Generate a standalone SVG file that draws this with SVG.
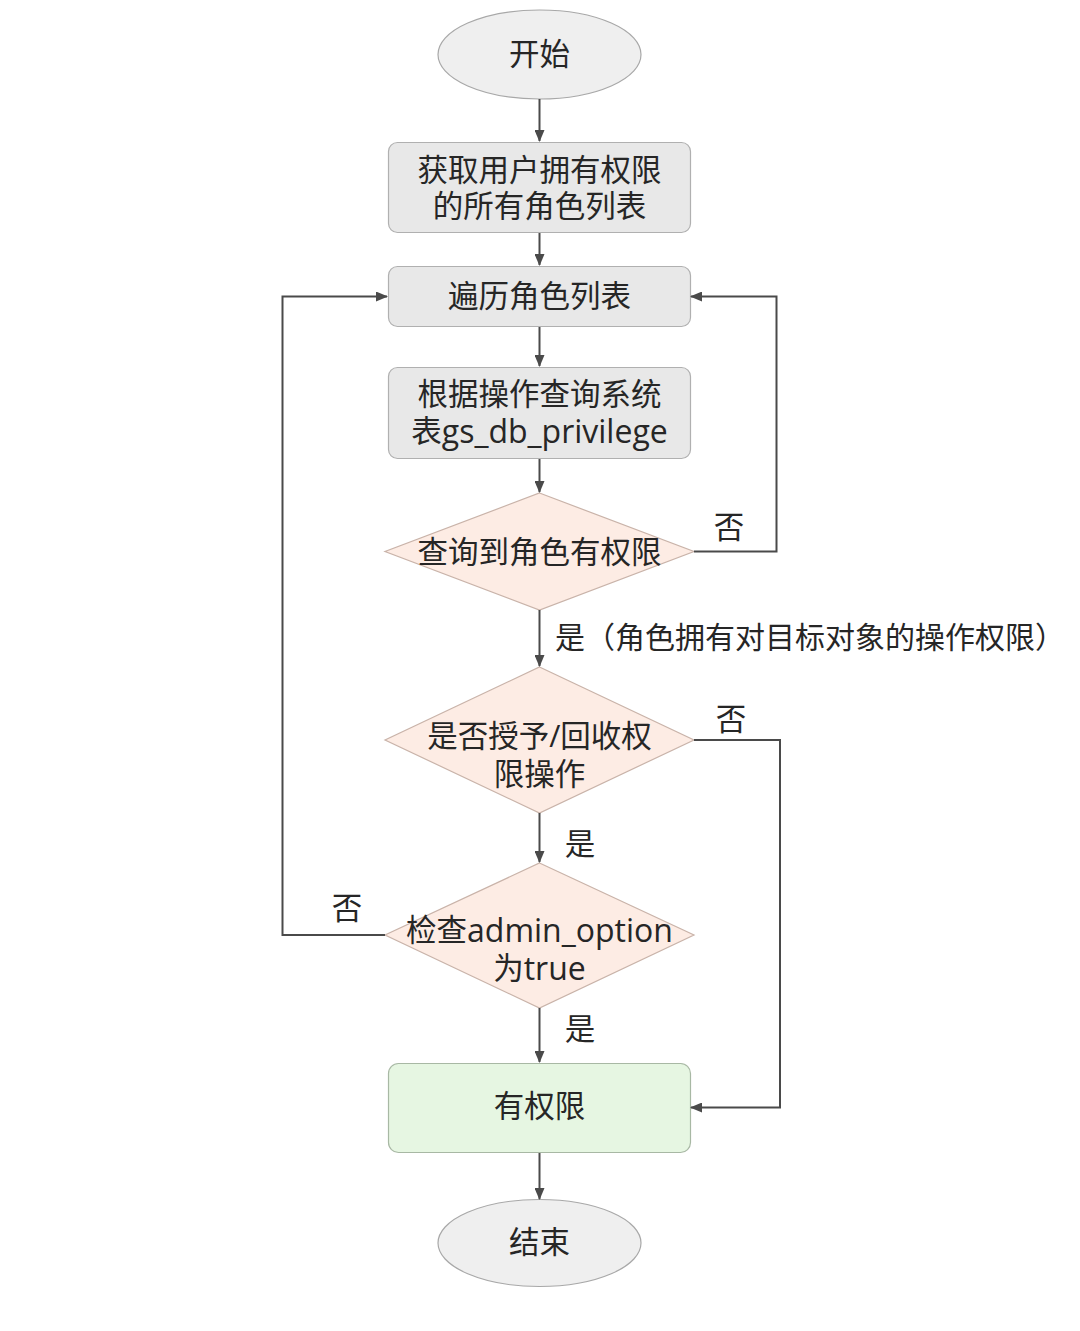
<svg xmlns="http://www.w3.org/2000/svg" width="1080" height="1331" viewBox="0 0 1080 1331">
<defs>
<marker id="arr" markerWidth="12" markerHeight="10" refX="11" refY="5" orient="auto" markerUnits="userSpaceOnUse">
<path d="M0,0 L12,5 L0,10 Z" fill="#4a4a4a"/>
</marker>
<style>
text{font-family:"Open Sans","Noto Sans CJK SC",sans-serif;font-size:30.5px;fill:#262626;text-anchor:middle;dominant-baseline:central}
.lat{font-size:32px}
.term{fill:#efefef;stroke:#a8a8a8;stroke-width:1.2}
.proc{fill:#e8e8e8;stroke:#b0b0b0;stroke-width:1.2}
.dec{fill:#fdece4;stroke:#c9b3a9;stroke-width:1.2}
.ok{fill:#e6f6e2;stroke:#a8b8a4;stroke-width:1.2}
.conn path{fill:none;stroke:#4a4a4a;stroke-width:2;marker-end:url(#arr)}
.lbl{text-anchor:start;font-size:30px}
</style>
</defs>
<rect width="1080" height="1331" fill="#ffffff"/>

<g id="start">
<ellipse class="term" cx="539.5" cy="54.5" rx="101.5" ry="44.5"/>
<text x="539.5" y="53">开始</text>
</g>

<g id="get-roles">
<rect class="proc" x="388.5" y="142.5" width="302" height="90" rx="9"/>
<text x="539.5" y="168.5">获取用户拥有权限</text>
<text x="539.5" y="205">的所有角色列表</text>
</g>

<g id="iterate">
<rect class="proc" x="388.5" y="266.5" width="302" height="60" rx="9"/>
<text x="539.5" y="295">遍历角色列表</text>
</g>

<g id="query">
<rect class="proc" x="388.5" y="367.5" width="302" height="91" rx="9"/>
<text x="539.5" y="393">根据操作查询系统</text>
<text x="539.5" y="430">表<tspan class="lat">gs_db_privilege</tspan></text>
</g>

<g id="has-priv">
<polygon class="dec" points="539.5,493 694,551.5 539.5,610 385,551.5"/>
<text x="539.5" y="551">查询到角色有权限</text>
</g>

<g id="grant-revoke">
<polygon class="dec" points="539.5,667 694,740 539.5,813 385,740"/>
<text x="539.5" y="735">是否授予/回收权</text>
<text x="539.5" y="772.5">限操作</text>
</g>

<g id="admin-option">
<polygon class="dec" points="539.5,863 694,935 539.5,1008 385,935"/>
<text x="539.5" y="929">检查<tspan class="lat">admin_option</tspan></text>
<text x="539.5" y="967">为<tspan class="lat">true</tspan></text>
</g>

<g id="granted">
<rect class="ok" x="388.5" y="1063.5" width="302" height="89" rx="10"/>
<text x="539.5" y="1105">有权限</text>
</g>

<g id="end">
<ellipse class="term" cx="539.5" cy="1243" rx="101.5" ry="43.5"/>
<text x="539.5" y="1241">结束</text>
</g>

<g id="connectors" class="conn">
<path d="M539.5,99 V141"/>
<path d="M539.5,233 V265"/>
<path d="M539.5,327 V366"/>
<path d="M539.5,459 V492"/>
<path d="M539.5,610 V666"/>
<path d="M539.5,813 V862"/>
<path d="M539.5,1008 V1062"/>
<path d="M539.5,1153 V1199"/>
<path d="M694,551.5 H776.5 V296.5 H691"/>
<path d="M694,740 H780 V1107.5 H691"/>
<path d="M385,935 H282.5 V296.5 H387"/>
</g>

<g id="labels">
<text x="729" y="526">否</text>
<text class="lbl" x="555" y="636">是（角色拥有对目标对象的操作权限）</text>
<text x="731" y="718">否</text>
<text x="580" y="843">是</text>
<text x="347" y="907">否</text>
<text x="580" y="1028">是</text>
</g>
</svg>
